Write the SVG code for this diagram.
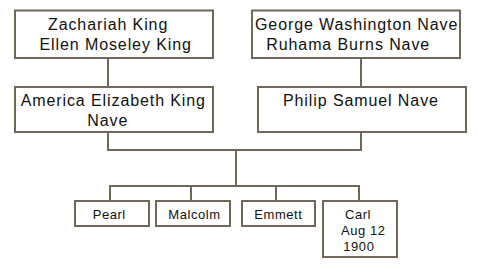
<svg xmlns="http://www.w3.org/2000/svg" width="478" height="265" viewBox="0 0 478 265">
<style>
.box{fill:#ffffff;stroke:#6f6858;stroke-width:2}
.ln{fill:none;stroke:#6f6858;stroke-width:2}
.big{font-family:"Liberation Sans",Arial,sans-serif;font-size:16px;letter-spacing:0.9px;fill:#111}
.sm{font-family:"Liberation Sans",Arial,sans-serif;font-size:13px;letter-spacing:0.55px;fill:#111}
</style>
<rect width="478" height="265" fill="#ffffff"/>
<g id="connectors">
<path class="ln" d="M108,58 V87 M361,58 V87 M108,132 V150 H361 V132 M236,150 V186 M110,201 V186 H359 V201 M191,186 V201 M276,186 V201"/>
</g>
<g id="zachariah">
<rect class="box" x="15" y="10.5" width="198" height="47.5"/>
<text class="big" x="48" y="30">Zachariah King</text>
<text class="big" x="39.5" y="50">Ellen Moseley King</text>
</g>
<g id="george">
<rect class="box" x="252" y="10.5" width="208" height="47.5"/>
<text class="big" x="255" y="30">George Washington Nave</text>
<text class="big" x="266.3" y="50">Ruhama Burns Nave</text>
</g>
<g id="america">
<rect class="box" x="15" y="87" width="198" height="45"/>
<text class="big" x="20.7" y="106">America Elizabeth King</text>
<text class="big" x="87.3" y="126">Nave</text>
</g>
<g id="philip">
<rect class="box" x="258" y="87" width="208" height="45"/>
<text class="big" x="283" y="105.5">Philip Samuel Nave</text>
</g>
<g id="pearl">
<rect class="box" x="75" y="201" width="74" height="25"/>
<text class="sm" x="92.7" y="218.5">Pearl</text>
</g>
<g id="malcolm">
<rect class="box" x="156" y="201" width="74" height="25"/>
<text class="sm" x="168.3" y="218.5">Malcolm</text>
</g>
<g id="emmett">
<rect class="box" x="242" y="201" width="73" height="25"/>
<text class="sm" x="254.3" y="218.5">Emmett</text>
</g>
<g id="carl">
<rect class="box" x="323" y="201" width="74" height="56"/>
<text class="sm" x="345" y="218.5">Carl</text>
<text class="sm" x="341" y="235">Aug 12</text>
<text class="sm" x="343.3" y="251">1900</text>
</g>
</svg>
